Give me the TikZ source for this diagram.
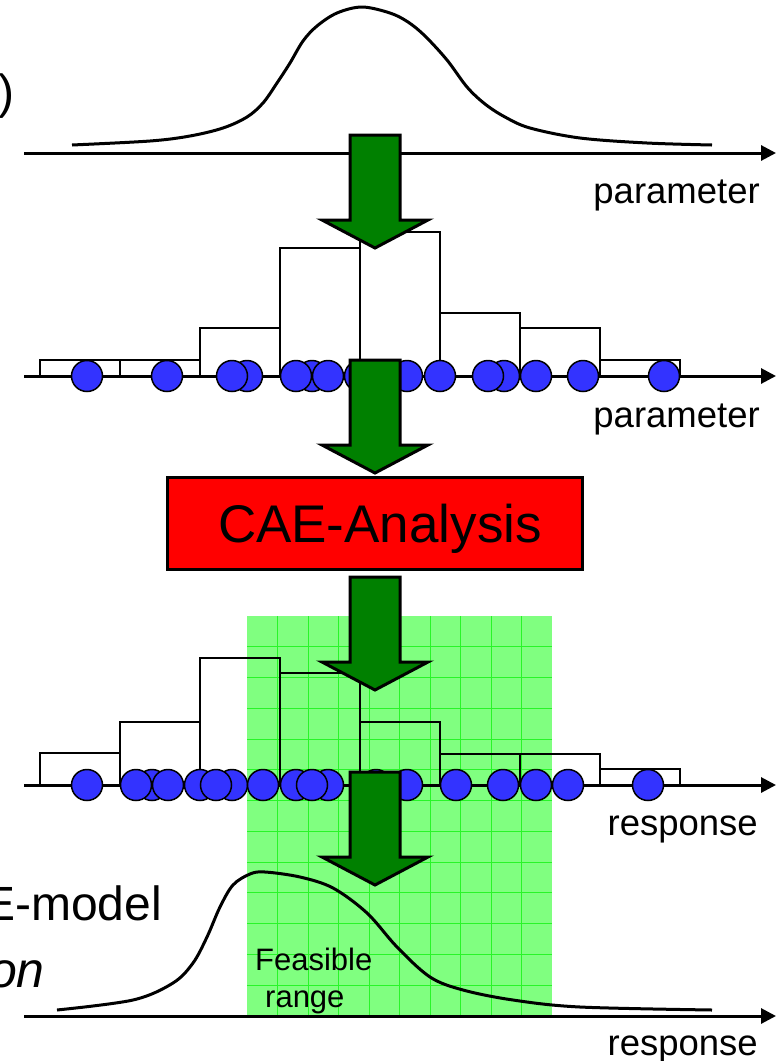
\documentclass[tikz,border=0pt]{standalone}
\usepackage{fontspec}
\setmainfont{Liberation Sans}
\usetikzlibrary{arrows.meta}
\definecolor{arrowgreen}{RGB}{0,128,0}
\definecolor{dotblue}{RGB}{51,51,255}
\definecolor{boxred}{RGB}{255,0,0}
\definecolor{zonegreen}{RGB}{128,255,128}
\definecolor{gridgreen}{RGB}{40,245,40}
\begin{document}
\begin{tikzpicture}[x=1pt,y=-1pt,
  axis/.style={line width=3pt,-{Triangle[length=15pt,width=15pt]}},
  curve/.style={line width=3pt},
  bar/.style={line width=2pt},
  dot/.style={circle,draw=black,line width=1.5pt,fill=dotblue,minimum size=31pt,inner sep=0pt},
  flow/.style={draw=black,line width=3pt,fill=arrowgreen,line join=miter},
  lbl/.style={font=\fontsize{36.5}{40}\selectfont,inner sep=0pt,anchor=base east},
  side/.style={font=\fontsize{48}{56}\selectfont,inner sep=0pt,anchor=base east},
  small/.style={font=\fontsize{31}{36}\selectfont,inner sep=0pt,anchor=base west},
  downarrow/.pic={\draw[flow] (-25,0) -- (25,0) -- (25,85) -- (53,85) -- (0,113) -- (-53,85) -- (-25,85) -- cycle;}
]
\useasboundingbox (0,0) rectangle (778,1061);

% feasible zone
\fill[zonegreen] (247,616) rectangle (552,1016);
\foreach \k in {1,...,9} \draw[gridgreen,line width=1pt] ({247+30.5*\k},616) -- ({247+30.5*\k},1016);
\foreach \k in {1,...,12} \draw[gridgreen,line width=1pt] (247,{616+30.77*\k}) -- (552,{616+30.77*\k});

% side texts
\node[side] (rp) at (15,108) {)};
\node[side] (fem) at (162,920) {E-model};
\node[side,font=\fontsize{50}{56}\selectfont\itshape] (on) at (45,987) {on};

% axes
\coordinate (a1s) at (24,153); \coordinate (a1e) at (776,153);
\coordinate (a2s) at (24,376); \coordinate (a2e) at (776,376);
\coordinate (a3s) at (24,785); \coordinate (a3e) at (776,785);
\coordinate (a4s) at (24,1016); \coordinate (a4e) at (776,1016);
\draw[axis] (a1s) -- (a1e);
\draw[axis] (a2s) -- (a2e);
\draw[axis] (a3s) -- (a3e);
\draw[axis] (a4s) -- (a4e);

\node[lbl] (p1) at (760,203) {parameter};
\node[lbl] (p2) at (760,427) {parameter};
\node[lbl] (r1) at (758,835) {response};
\node[lbl] (r2) at (758,1055) {response};

% input distribution
\draw[curve] plot[smooth,tension=0.55] coordinates {(72,145) (150,141) (190,136) (223,128) (247,117) (263,103) (277,83) (290,63) (303,41) (317,26) (337,13) (362,7) (390,13) (408,22) (425,36) (447,60) (467,87) (485,104) (505,117) (530,128) (580,138) (647,143) (712,145)};

% histogram of parameter samples
\foreach \a/\b/\t in {40/120/360,120/200/360,200/280/328,280/360/248,360/440/232,440/520/313,520/600/328,600/680/360}
  \draw[bar] (\a,376) rectangle (\b,\t);
\foreach \cx [count=\i] in {87,167,247,232,312,296,328,360,391,407,440,504,488,536,583,664}
  \node[dot] (u\i) at (\cx,376) {};

% histogram of responses
\foreach \a/\b/\t in {40/120/753,120/200/722,200/280/658,280/360/673,360/440/722,440/520/754,520/600/754,600/680/769}
  \draw[bar] (\a,785) rectangle (\b,\t);
\foreach \cx [count=\i] in {87,152,136,168,200,232,216,263,296,328,312,376,407,456,503,536,568,648}
  \node[dot] (l\i) at (\cx,785) {};

% output distribution
\draw[curve] plot[smooth,tension=0.55] coordinates {(57,1010) (133,1000) (173,983) (193,963) (207,937) (220,907) (233,885) (250,874) (265,872) (300,877) (333,888) (367,913) (397,947) (430,977) (463,990) (513,1000) (580,1007) (712,1010)};

\node[small] (feas) at (255,970) {Feasible};
\node[small] (rng) at (265,1007) {range};

% CAE box
\node[draw=black,line width=3pt,fill=boxred,minimum width=415pt,minimum height=92pt,text depth=0pt,font=\fontsize{53}{60}\selectfont] (cae) at (375,523.5) {\hspace*{10pt}CAE-Analysis};

% flow arrows
\pic at (375,135) {downarrow};
\pic at (375,360) {downarrow};
\pic at (375,577) {downarrow};
\pic at (375,772) {downarrow};
\end{tikzpicture}
\end{document}
